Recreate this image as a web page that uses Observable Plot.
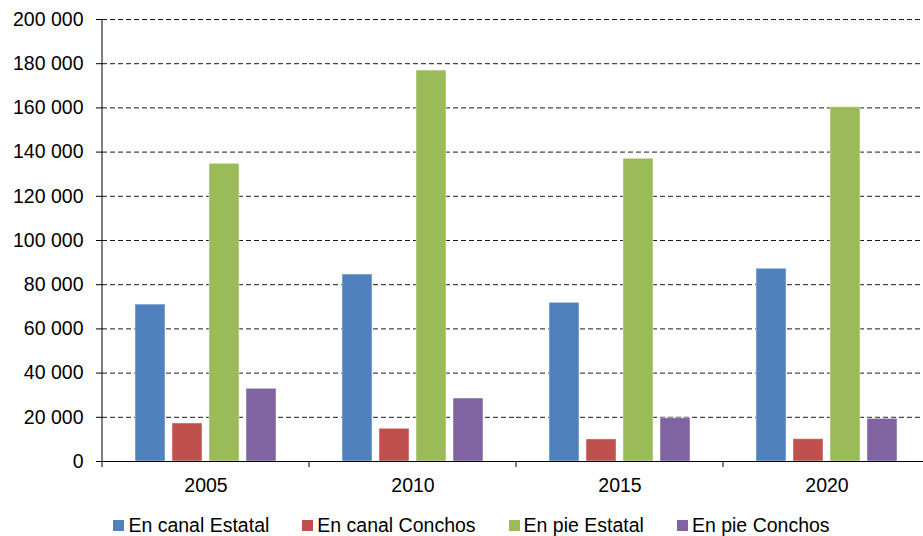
<!DOCTYPE html>
<html><head><meta charset="utf-8">
<script src="https://cdn.jsdelivr.net/npm/d3@7"></script>
<script src="https://cdn.jsdelivr.net/npm/@observablehq/plot@0.6"></script>
<style>
html,body{margin:0;padding:0;background:#fff;overflow:hidden;}
body{font-family:"Liberation Sans",Arial,sans-serif;color:#000;width:923px;}
#legend{display:flex;justify-content:center;gap:33px;font-size:19.5px;height:40px;align-items:center;padding-left:20px;box-sizing:border-box;}
#legend .item{display:flex;align-items:center;}
#legend .sw{width:11px;height:11px;margin-right:4px;}
</style></head><body>
<div id="chart"></div>
<div id="legend"></div>
<script>
const years = ["2005", "2010", "2015", "2020"];
const series = ["En canal Estatal", "En canal Conchos", "En pie Estatal", "En pie Conchos"];
const canalEstatal = [71000, 84600, 71800, 87200];
const canalConchos = [17200, 14800, 10000, 10100];
const pieEstatal = [134700, 176900, 137000, 160300];
const pieConchos = [32900, 28500, 19600, 19300];
const colors = ["#4F81BD", "#C0504D", "#9BBB59", "#8064A2"];
const yTicks = [0, 20000, 40000, 60000, 80000, 100000, 120000, 140000, 160000, 180000, 200000];

const seriesValues = [canalEstatal, canalConchos, pieEstatal, pieConchos];
const data = years.flatMap((year, i) => seriesValues.map((arr, j) => ({year, series: series[j], value: arr[i]})));
const fmt = d => d3.format(",")(d).replace(/,/g, " ");

const chart = Plot.plot({
  width: 923, height: 505,
  marginLeft: 101, marginRight: -8, marginTop: 19, marginBottom: 44,
  style: {fontFamily: "Liberation Sans, Arial, sans-serif", fontSize: "19.5px", color: "#000", background: "#fff", overflow: "hidden"},
  fx: {domain: years, padding: 0, label: null},
  x: {domain: series, paddingInner: 0.2, paddingOuter: 0.85, axis: null},
  y: {domain: [0, 200000], label: null},
  color: {domain: series, range: colors},
  marks: [
    Plot.gridY(yTicks, {stroke: "#000", strokeOpacity: 0.9, strokeDasharray: "5,3"}),
    Plot.barY(data, {fx: "year", x: "series", y: "value", fill: "series", stroke: "#fff", strokeOpacity: 0.45, strokeWidth: 1}),
    Plot.ruleY([0], {stroke: "#000", strokeWidth: 1}),
    Plot.axisY(yTicks, {tickSize: 6, tickPadding: 13, tickFormat: fmt, fontSize: 19.5, label: null}),
    Plot.axisFx({anchor: "bottom", tickSize: 0, tickPadding: 17, fontSize: 19.5, label: null})
  ]
});
document.getElementById("chart").appendChild(chart);

// axis line and boundary ticks from the library's scales
const svg = d3.select(chart);
const fx = chart.scale("fx"), y = chart.scale("y");
const y0 = y.apply(0), yTop = y.apply(200000);
const xLeft = fx.apply(years[0]);
svg.append("line").attr("x1", xLeft).attr("x2", xLeft).attr("y1", yTop).attr("y2", y0).attr("stroke", "#000");
const bounds = years.map(v => fx.apply(v)).concat([fx.apply(years[years.length - 1]) + fx.bandwidth]);
bounds.forEach(b => svg.append("line").attr("x1", b).attr("x2", b).attr("y1", y0).attr("y2", y0 + 6).attr("stroke", "#000"));

const legend = d3.select("#legend");
series.forEach((s, i) => {
  const it = legend.append("div").attr("class", "item");
  it.append("div").attr("class", "sw").style("background", colors[i]);
  it.append("span").text(s);
});
</script>
</body></html>
